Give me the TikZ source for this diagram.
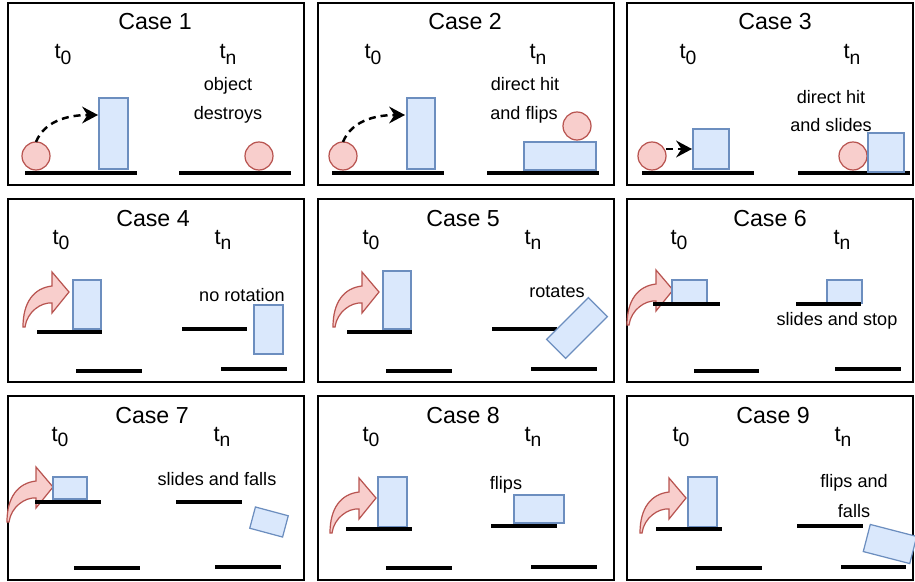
\documentclass[tikz,border=0pt]{standalone}
\usepackage{fontspec}
\setmainfont{Liberation Sans}
\usepackage{tikz}
\usetikzlibrary{arrows.meta}
\definecolor{boxfill}{HTML}{DAE8FC}
\definecolor{boxline}{HTML}{6C8EBF}
\definecolor{ballfill}{HTML}{F8CECC}
\definecolor{ballline}{HTML}{B85450}
\newcommand{\stamp}[1]{t\raisebox{-0.45ex}{\fontsize{11}{12}\selectfont #1}}

\begin{document}
\begin{tikzpicture}[x=0.02cm, y=-0.02cm,
        panel/.style={draw=black, line width=0.8pt},
        ground/.style={line width=1.9pt},
        box/.style={draw=boxline, fill=boxfill, line width=0.7pt},
        ball/.style={draw=ballline, fill=ballfill, line width=0.7pt},
        hitpath/.style={line width=1.4pt, dash pattern=on 4pt off 2.8pt, -{Stealth[length=9pt, width=9.5pt, inset=3pt]}},
        title/.style={font=\fontsize{13.2}{15}\selectfont, anchor=base, inner sep=0pt},
        stampnode/.style={font=\fontsize{12.5}{14}\selectfont, anchor=base, inner sep=0pt},
        note/.style={font=\fontsize{10.3}{12}\selectfont, anchor=base, inner sep=0pt},
        pusharrow/.pic={
            \draw[ball] (-46,35) .. controls (-46,10) and (-35,-4) .. (-17,-6) -- (-17,-20) -- (0,0)
                -- (-17,21) -- (-17,11) .. controls (-28,10) and (-42,20) .. (-44,35) -- cycle;
        }]
    \useasboundingbox (0,0) rectangle (915,581);

    % panels
    \draw[panel] (8,3) rectangle (304,185);
    \draw[panel] (318,3) rectangle (614,185);
    \draw[panel] (627,3) rectangle (913,185);
    \draw[panel] (8,199) rectangle (304,382);
    \draw[panel] (318,199) rectangle (614,382);
    \draw[panel] (627,199) rectangle (913,382);
    \draw[panel] (8,396) rectangle (304,580);
    \draw[panel] (318,396) rectangle (614,580);
    \draw[panel] (627,396) rectangle (913,580);

    % Case 1
    \node[title] (title1) at (155,30) {Case 1};
    \node[stampnode] (start1) at (63,59) {\stamp{0}};
    \node[stampnode] (end1) at (228,59) {\stamp{n}};
    \draw[ground] (25,173) -- (137,173);
    \draw[ground] (179,173) -- (291,173);
    \draw[ball] (36,156) circle[radius=14];
    \draw[box] (99,98) rectangle (128,169);
    \draw[ball] (259,156) circle[radius=14];
    \coordinate (hit1a) at (36,142);
    \coordinate (hit1b) at (98,115);
    \draw[hitpath] (hit1a) .. controls (44,122) and (66,115) .. (hit1b);
    \node[note] (note1a) at (228,91) {object};
    \node[note] (note1b) at (228,119) {destroys};

    % Case 2
    \node[title] (title2) at (465,30) {Case 2};
    \node[stampnode] (start2) at (373,59) {\stamp{0}};
    \node[stampnode] (end2) at (538,59) {\stamp{n}};
    \draw[ground] (332,173) -- (444,173);
    \draw[ground] (487,173) -- (599,173);
    \draw[ball] (343,156) circle[radius=14];
    \draw[box] (407,98) rectangle (435,169);
    \draw[box] (524,142) rectangle (596,170);
    \draw[ball] (577,126) circle[radius=14];
    \coordinate (hit2a) at (343,142);
    \coordinate (hit2b) at (405,115);
    \draw[hitpath] (hit2a) .. controls (351,122) and (373,115) .. (hit2b);
    \node[note] (note2a) at (525,91) {direct hit};
    \node[note] (note2b) at (524,119) {and flips};

    % Case 3
    \node[title] (title3) at (775,30) {Case 3};
    \node[stampnode] (start3) at (688,59) {\stamp{0}};
    \node[stampnode] (end3) at (852,59) {\stamp{n}};
    \draw[ground] (642,173) -- (754,173);
    \draw[ground] (798,173) -- (910,173);
    \draw[ball] (652,156) circle[radius=14];
    \draw[box] (693,129) rectangle (729,169);
    \draw[ball] (853,156) circle[radius=14];
    \draw[box] (868,133) rectangle (904,172);
    \coordinate (hit3a) at (666,149);
    \coordinate (hit3b) at (692,149);
    \draw[hitpath] (hit3a) -- (hit3b);
    \node[note] (note3a) at (831,103) {direct hit};
    \node[note] (note3b) at (831,132) {and slides};

    % Case 4
    \node[title] (title4) at (153,226) {Case 4};
    \node[stampnode] (start4) at (61,244) {\stamp{0}};
    \node[stampnode] (end4) at (223,244) {\stamp{n}};
    \pic (push4) at (69,292) {pusharrow};
    \draw[box] (73,280) rectangle (101,329);
    \draw[ground] (37,332) -- (102,332);
    \draw[ground] (76,371) -- (142,371);
    \draw[ground] (182,329) -- (247,329);
    \draw[box] (254,305) rectangle (283,354);
    \draw[ground] (221,369) -- (287,369);
    \node[note] (note4) at (242,301) {no rotation};

    % Case 5
    \node[title] (title5) at (463,226) {Case 5};
    \node[stampnode] (start5) at (371,244) {\stamp{0}};
    \node[stampnode] (end5) at (533,244) {\stamp{n}};
    \pic (push5) at (379,292) {pusharrow};
    \draw[box] (383,271) rectangle (411,329);
    \draw[ground] (347,332) -- (412,332);
    \draw[ground] (386,371) -- (452,371);
    \draw[ground] (492,329) -- (557,329);
    \draw[box, shift={(577,328)}, rotate=45] (-29.5,-13.5) rectangle (29.5,13.5);
    \draw[ground] (531,369) -- (597,369);
    \node[note] (note5) at (557,297) {rotates};

    % Case 6
    \node[title] (title6) at (770,226) {Case 6};
    \node[stampnode] (start6) at (679,244) {\stamp{0}};
    \node[stampnode] (end6) at (842,244) {\stamp{n}};
    \pic (push6) at (673,290) {pusharrow};
    \draw[box] (672,280) rectangle (707,303);
    \draw[ground] (653,304) -- (720,304);
    \draw[ground] (694,371) -- (759,371);
    \draw[box] (827,280) rectangle (862,303);
    \draw[ground] (796,304) -- (861,304);
    \draw[ground] (835,369) -- (901,369);
    \node[note] (note6) at (837,325) {slides and stop};

    % Case 7
    \node[title] (title7) at (152,423) {Case 7};
    \node[stampnode] (start7) at (60,441) {\stamp{0}};
    \node[stampnode] (end7) at (222,441) {\stamp{n}};
    \pic (push7) at (53,487) {pusharrow};
    \draw[box] (53,477) rectangle (87,499);
    \draw[ground] (35,502) -- (101,502);
    \draw[ground] (74,568) -- (140,568);
    \draw[ground] (176,502) -- (242,502);
    \draw[box, shift={(269,522)}, rotate=-15] (-17,-11) rectangle (17,11);
    \draw[ground] (215,567) -- (281,567);
    \node[note] (note7) at (217,485) {slides and falls};

    % Case 8
    \node[title] (title8) at (463,423) {Case 8};
    \node[stampnode] (start8) at (371,441) {\stamp{0}};
    \node[stampnode] (end8) at (533,441) {\stamp{n}};
    \pic (push8) at (376,498) {pusharrow};
    \draw[box] (378,477) rectangle (407,527);
    \draw[ground] (346,529) -- (412,529);
    \draw[ground] (386,568) -- (452,568);
    \draw[box] (514,495) rectangle (564,523);
    \draw[ground] (491,526) -- (557,526);
    \draw[ground] (531,567) -- (597,567);
    \node[note] (note8) at (506,489) {flips};

    % Case 9
    \node[title] (title9) at (773,423) {Case 9};
    \node[stampnode] (start9) at (681,441) {\stamp{0}};
    \node[stampnode] (end9) at (843,441) {\stamp{n}};
    \pic (push9) at (686,498) {pusharrow};
    \draw[box] (688,477) rectangle (717,527);
    \draw[ground] (656,529) -- (722,529);
    \draw[ground] (696,568) -- (762,568);
    \draw[ground] (797,526) -- (863,526);
    \draw[box, shift={(890,544)}, rotate=-14.5] (-24,-14) rectangle (24,14);
    \draw[ground] (841,567) -- (906,567);
    \node[note] (note9a) at (854,487) {flips and};
    \node[note] (note9b) at (854,517) {falls};
\end{tikzpicture}
\end{document}
